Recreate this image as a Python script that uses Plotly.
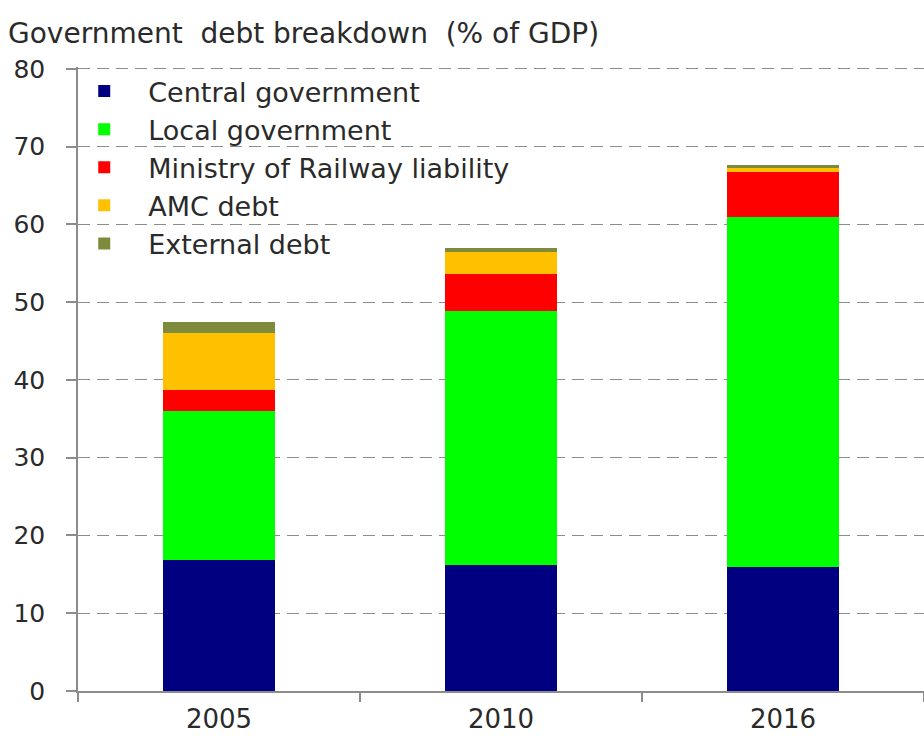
import plotly.graph_objects as go

# Government debt breakdown, % of GDP
years = ["2005", "2010", "2016"]
central_gov = [16.9, 16.2, 16.0]
local_gov = [19.1, 32.7, 44.9]
railway = [2.7, 4.7, 5.8]
amc_debt = [7.4, 2.9, 0.6]
external_debt = [1.4, 0.5, 0.4]

y_ticks = [0, 10, 20, 30, 40, 50, 60, 70, 80]

series = [
    ("Central government", central_gov, "#000080"),
    ("Local government", local_gov, "#00FF00"),
    ("Ministry of Railway liability", railway, "#FF0000"),
    ("AMC debt", amc_debt, "#FFC000"),
    ("External debt", external_debt, "#7E8A3C"),
]

FONT = "DejaVu Sans"
TEXT = "#2a2a2a"
AXIS = "#8c8c8c"

fig = go.Figure()
for i, (name, vals, color) in enumerate(series):
    fig.add_trace(go.Bar(
        x=years, y=vals, name=name,
        marker=dict(color=color, line=dict(width=0)),
        legendgroup=f"g{i}",
    ))

fig.update_layout(
    barmode="stack",
    bargap=0.606,
    width=924, height=736,
    margin=dict(l=78, r=0, t=67, b=45),
    paper_bgcolor="white",
    plot_bgcolor="white",
    font=dict(family=FONT, size=25, color=TEXT),
    title=dict(
        text="Government  debt breakdown  (% of GDP)",
        x=8 / 924, xref="container", xanchor="left",
        y=1 - 33 / 736, yref="container", yanchor="middle",
        font=dict(family=FONT, size=28, color=TEXT),
    ),
    legend=dict(
        x=-0.021, xanchor="left",
        y=1.0, yanchor="top",
        traceorder="grouped",
        tracegroupgap=0,
        itemwidth=78,
        bgcolor="rgba(0,0,0,0)",
        font=dict(family=FONT, size=27, color=TEXT),
    ),
    showlegend=True,
)

fig.update_xaxes(
    showline=True, linecolor=AXIS, linewidth=1.5,
    ticks="outside", tickson="boundaries", ticklen=9,
    tickcolor=AXIS, tickwidth=1.5,
    ticklabelstandoff=4,
    showgrid=False,
    tickfont=dict(family=FONT, size=26, color=TEXT),
)

fig.update_yaxes(
    range=[0, 80.25],
    tickvals=y_ticks,
    ticktext=[str(v) for v in y_ticks],
    showline=True, linecolor=AXIS, linewidth=1.5,
    ticks="outside", ticklen=10, tickcolor=AXIS, tickwidth=1.5,
    ticklabelstandoff=16,
    showgrid=True, gridcolor=AXIS, gridwidth=1.2,
    griddash="12px,7px",
    zeroline=False,
    tickfont=dict(family=FONT, size=25, color=TEXT),
)

fig.write_html("out.html")
